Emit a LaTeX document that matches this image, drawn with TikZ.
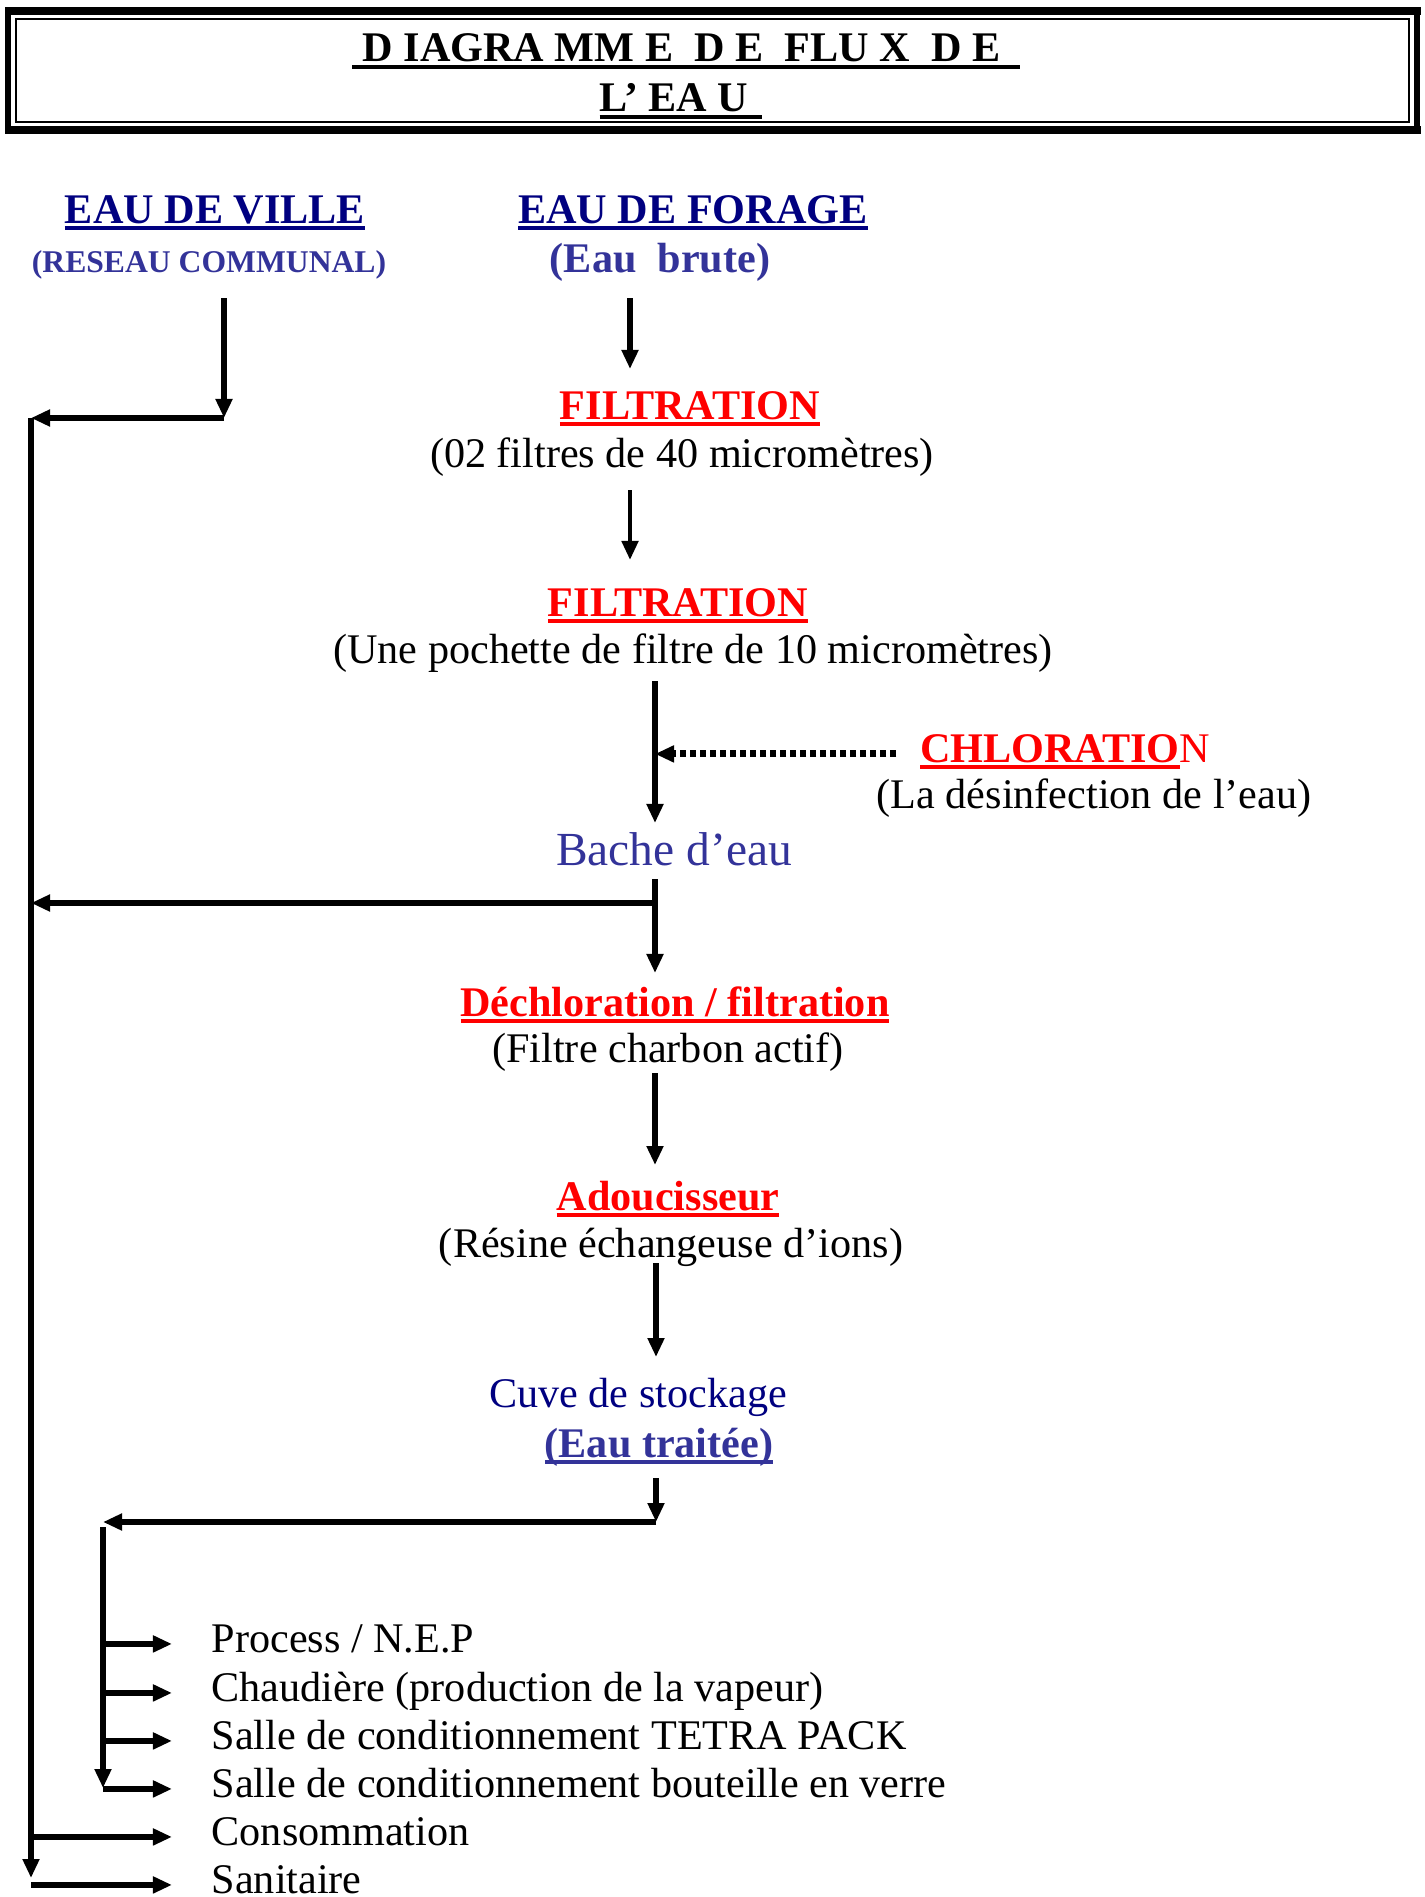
\documentclass[tikz,border=0pt]{standalone}
\usepackage{fontspec}
\setmainfont{Liberation Serif}
\usetikzlibrary{arrows.meta, positioning}
\definecolor{navyblue}{RGB}{0, 0, 128}
\definecolor{softblue}{RGB}{51, 51, 153}
\definecolor{procred}{RGB}{255, 0, 0}
\newsavebox{\undlbox}
\newcommand{\undl}[1]{\sbox{\undlbox}{#1}\rlap{\rule[-2pt]{\wd\undlbox}{1.2pt}}\usebox{\undlbox}}

\begin{document}
\begin{tikzpicture}[x=0.01cm, y=-0.01cm,
  txt/.style={inner sep=0pt, anchor=base, font=\fontsize{12}{14}\selectfont},
  head/.style={txt, font=\fontsize{12}{14}\selectfont\bfseries},
  usetxt/.style={txt, anchor=base west},
  flow/.style={-{Triangle[length=0.19cm, width=0.16cm]}, line width=1.6pt},
  thinflow/.style={flow, line width=1.3pt},
  bus/.style={line width=1.8pt},
  chl/.style={flow, line width=2pt, dash pattern=on 0.06cm off 0.04cm},
]
\useasboundingbox (0,0) rectangle (1424,1897);

% Title frame
\fill (5,7) rectangle (1421,15);
\fill (5,126) rectangle (1421,134);
\fill (5,15) rectangle (11,126);
\fill (1414,15) rectangle (1420,126);
\draw[line width=0.5pt] (16,19) rectangle (1409,122);
\node[head] (title1) at (686,62) {\undl{\hspace{3pt}D IAGRA MM E\ \ D E\ \ FLU X\ \ D E\hspace{5.5pt}}};
\node[head] (title2) at (681,112) {\undl{L’ EA U\hspace{4pt}}};

% Sources
\node[head, navyblue] (ville) at (215,223) {\undl{EAU DE VILLE}};
\node[head, softblue, font=\fontsize{9}{11}\selectfont\bfseries] (reseau) at (209,272) {(RESEAU COMMUNAL)};
\node[head, navyblue] (forage) at (693,223) {\undl{EAU DE FORAGE}};
\node[head, softblue] (brute) at (660,272) {(Eau\ \ brute)};

% Treatment chain
\node[head, procred] (filtA) at (690,419) {\undl{FILTRATION}};
\node[txt] (filtAnote) at (682,467) {(02 filtres de 40 micromètres)};
\node[head, procred] (filtB) at (678,616) {\undl{FILTRATION}};
\node[txt] (filtBnote) at (693,663) {(Une pochette de filtre de 10 micromètres)};
\node[txt, procred] (chlor) at (1065,762) {\undl{\bfseries CHLORATIO}N};
\node[txt] (chlornote) at (1094,808) {(La désinfection de l’eau)};
\node[txt, softblue, font=\fontsize{13.5}{16}\selectfont] (bache) at (674,865) {Bache d’eau};
\node[head, procred] (dechlor) at (675,1016) {\undl{Déchloration / filtration}};
\node[txt] (dechlornote) at (668,1062) {(Filtre charbon actif)};
\node[head, procred] (adouc) at (668,1210) {\undl{Adoucisseur}};
\node[txt] (adoucnote) at (671,1257) {(Résine échangeuse d’ions)};
\node[txt, navyblue] (cuve) at (638,1407) {Cuve de stockage};
\node[head, softblue] (traitee) at (659,1457) {\undl{(Eau traitée)}};

% Uses
\node[usetxt] (nep) at (211,1652) {Process / N.E.P};
\node[usetxt] (chaud) at (211,1701) {Chaudière (production de la vapeur)};
\node[usetxt] (tetra) at (211,1749) {Salle de conditionnement TETRA PACK};
\node[usetxt] (verre) at (211,1797) {Salle de conditionnement bouteille en verre};
\node[usetxt] (conso) at (211,1845) {Consommation};
\node[usetxt] (sani) at (211,1893) {Sanitaire};

% Connector points
\coordinate (vsrc) at (224,298);
\coordinate (vturn) at (224,418);
\coordinate (obtop) at (31,418);
\coordinate (obend) at (31,1878);
\coordinate (f0) at (630,298);
\coordinate (f1) at (630,369);
\coordinate (f2) at (630,490);
\coordinate (f3) at (630,560);
\coordinate (b0) at (655,681);
\coordinate (b1) at (655,823);
\coordinate (c0) at (655,879);
\coordinate (c1) at (655,973);
\coordinate (ctap) at (655,903);
\coordinate (d0) at (655,1073);
\coordinate (d1) at (655,1165);
\coordinate (e0) at (656,1263);
\coordinate (e1) at (656,1357);
\coordinate (g0) at (656,1478);
\coordinate (gturn) at (656,1522);
\coordinate (ibtop) at (103,1527);
\coordinate (ibend) at (103,1788);

% City water bus
\draw[flow] (vsrc) -- (vturn);
\draw[flow] (vturn) -- (obtop);
\draw[bus, -{Triangle[length=0.19cm, width=0.16cm]}] (obtop) -- (obend);

% Main flow
\draw[flow, line width=1.5pt] (f0) -- (f1);
\draw[thinflow] (f2) -- (f3);
\draw[flow] (b0) -- (b1);
\draw[chl, shorten <=0.23cm] (chlor.mid west) -- (b0 |- chlor.mid west);
\draw[flow] (c0) -- (c1);
\draw[flow] (ctap) -- (obtop |- ctap);
\draw[flow] (d0) -- (d1);
\draw[flow] (e0) -- (e1);
\draw[flow] (g0) -- (gturn);
\draw[flow] (gturn) -- (ibtop |- gturn);
\draw[bus, -{Triangle[length=0.19cm, width=0.16cm]}] (ibtop) -- (ibend);

% Branches to uses
\draw[flow, shorten >=0.39cm] (ibtop |- nep.mid west) -- (nep.mid west);
\draw[flow, shorten >=0.39cm] (ibtop |- chaud.mid west) -- (chaud.mid west);
\draw[flow, shorten >=0.39cm] (ibtop |- tetra.mid west) -- (tetra.mid west);
\draw[flow, shorten >=0.39cm] (ibtop |- verre.mid west) -- (verre.mid west);
\draw[flow, shorten >=0.39cm] (obtop |- conso.mid west) -- (conso.mid west);
\draw[flow, shorten >=0.39cm] (obtop |- sani.mid west) -- (sani.mid west);
\end{tikzpicture}
\end{document}
